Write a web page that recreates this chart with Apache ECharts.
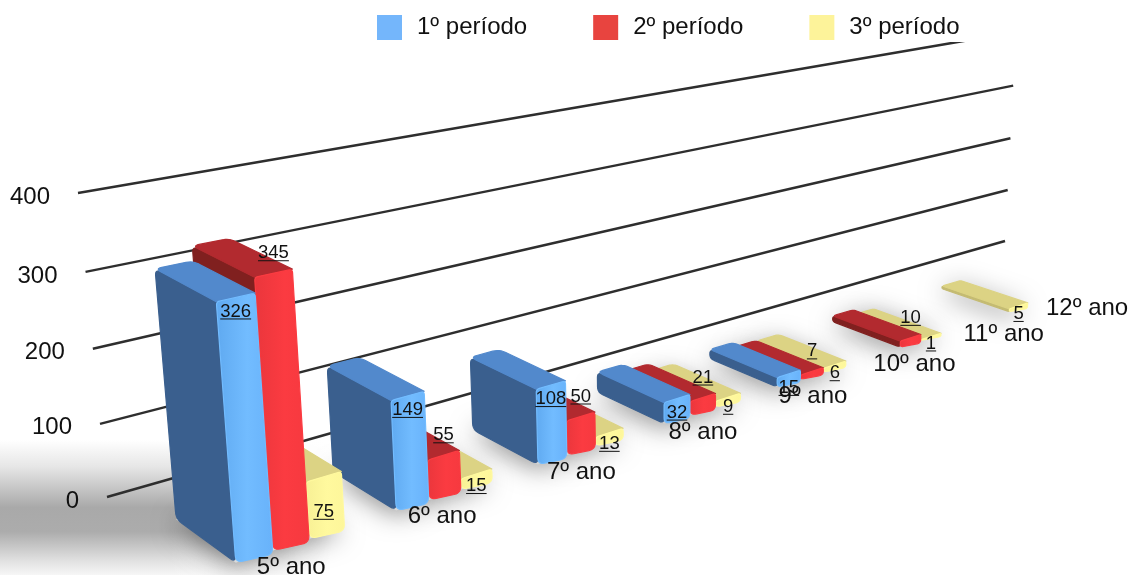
<!DOCTYPE html>
<html>
<head>
<meta charset="utf-8">
<style>html,body{margin:0;padding:0;background:#fff}#chart{width:1129px;height:575px}</style>
<script src="https://cdn.jsdelivr.net/npm/echarts@6/dist/echarts.min.js"></script>
</head>
<body>
<div id="chart"></div>
<script>
const categories = ['5º ano','6º ano','7º ano','8º ano','9º ano','10º ano','11º ano','12º ano'];
const periodNames = ['1º período','2º período','3º período'];
const period1 = [326,149,108,32,15,null,null,null];
const period2 = [345,55,50,21,7,10,null,null];
const period3 = [75,15,13,9,6,1,5,null];
const yTicks = [0,100,200,300,400];

const FONT = '"Liberation Sans", Arial, Helvetica, sans-serif';
const legendColors = ['#74b6fb','#e8443f','#fdf39a'];
const faceColors = [
  {front:['#5fa9f0','#72bcff','#68b2fa'], top:'#5289cc', side:'#3a5f8e'},
  {front:['#ea363c','#fb3b41','#f6393f'], top:'#b22a2f', side:'#80201f'},
  {front:['#f7f095','#fff99e','#fdf69a'], top:'#dcd384', side:'#c4bb72'}
];
// Small horizontal corrections for the category names along the receding axis.
const categoryNudge = [0,-3,0,0,1,4,4,6];

// Perspective camera: t runs along the back wall, s up the wall, z out of the wall.
const CAM = {a:1392.3,b:-32.78,c:107,d:-137.5,e:-313.3,f:497,g:0.4918,h:-0.0484,kx:83.7,ky:30.9,kw:-0.0773};
const BAR_BACK = 0.428, BAR_FRONT = 1;
function project(t, s, z) {
  const w = 1 + CAM.g*t + CAM.h*s + CAM.kw*z;
  return [(CAM.a*t + CAM.b*s + CAM.c + CAM.kx*z)/w, (CAM.d*t + CAM.e*s + CAM.f + CAM.ky*z)/w];
}
// Flat grid pixels from the hidden axes become wall coordinates.
function toWall(cs, pt) {
  return [(pt[0]-cs.x)/cs.width, (cs.y+cs.height-pt[1])/cs.height];
}

// Replaces each polygon corner with a short curve; radii[i] belongs to points[i].
function rounded(points, radii) {
  const out = [], n = points.length;
  points.forEach((p,i)=>{
    const r = radii[i];
    if (!r) { out.push(p); return; }
    const prev = points[(i+n-1)%n], next = points[(i+1)%n];
    const along = (q)=>{
      const dx = q[0]-p[0], dy = q[1]-p[1], len = Math.hypot(dx,dy) || 1;
      const d = Math.min(r, len*0.45);
      return [p[0]+dx/len*d, p[1]+dy/len*d];
    };
    const a = along(prev), b = along(next);
    for (let k=0;k<=6;k++) {
      const u = k/6, v = 1-u;
      out.push([v*v*a[0]+2*u*v*p[0]+u*u*b[0], v*v*a[1]+2*u*v*p[1]+u*u*b[1]]);
    }
  });
  return out;
}

function face(points, color, z2) {
  const edge = typeof color === 'string' ? color : color.stroke;
  const fill = typeof color === 'string' ? color : color.fill;
  return {type:'polygon', z2, shape:{points},
    style:{fill, stroke:edge, lineWidth:1.2, lineJoin:'round'}};
}

function barRenderer(periodIndex) {
  return function (params, api) {
    const cs = params.coordSys;
    const cat = api.value(0), val = api.value(1);
    const band = api.size([1,0])[0];
    const slot = band*2/9, barW = slot*0.985;
    const base = api.coord([cat,0]);
    const left = base[0] + (periodIndex-1)*slot - slot/2 + (slot-barW)/2;
    const tL = toWall(cs,[left,base[1]])[0];
    const tR = toWall(cs,[left+barW,base[1]])[0];
    const s = toWall(cs,api.coord([cat,val]))[1];
    const drop = -0.012;
    const order = (categories.length-cat)*10 + (3-periodIndex)*3 + 5;
    const c = faceColors[periodIndex];
    const scale = Math.min(1, Math.max(0.35, 1.25-cat*0.15));
    const r = 7*scale;

    const ftl = project(tL,s,BAR_FRONT), ftr = project(tR,s,BAR_FRONT);
    const fbr = project(tR,drop,BAR_FRONT), fbl = project(tL,0,BAR_FRONT);
    const frontFill = new echarts.graphic.LinearGradient(0,0,1,0,[
      {offset:0,color:c.front[0]},{offset:0.55,color:c.front[1]},{offset:1,color:c.front[2]}]);

    // Value label: the middle period sits above the bar, the outer ones on its face.
    const midX = (ftl[0]+ftr[0])/2, topY = (ftl[1]+ftr[1])/2, botY = (fbl[1]+fbr[1])/2;
    let labelY = topY + 14;
    if (periodIndex === 1) labelY = topY - 20;
    if (periodIndex === 2) labelY = (topY+botY)/2 + 6;
    const text = String(val);
    const tw = text.length*0.556*18.5;

    const foot = [project(tL,0,BAR_BACK),project(tR,0,BAR_BACK),project(tR,0,BAR_FRONT),project(tL,0,BAR_FRONT)];
    return {type:'group', children:[
      {type:'polygon', z2:1, shape:{points:foot},
        style:{fill:'#dddddd', shadowBlur:26, shadowColor:'rgba(0,0,0,0.45)', shadowOffsetX:-2, shadowOffsetY:4}},
      face(rounded([project(tL,0,BAR_BACK),project(tL,0,BAR_FRONT),project(tL,s,BAR_FRONT),project(tL,s,BAR_BACK)],[r,r,0,r]), c.side, order),
      face(rounded([project(tL,s,BAR_BACK),project(tR,s,BAR_BACK),project(tR,s,BAR_FRONT),project(tL,s,BAR_FRONT)],[r,r,0,0]), c.top, order+1),
      face(rounded([ftl,ftr,fbr,fbl],[r*0.5,r*0.5,r,r]), {fill:frontFill, stroke:c.front[1]}, order+1),
      {type:'text', z2:1000, style:{x:midX, y:labelY, text, font:'18.5px '+FONT, fill:'#111', align:'center', verticalAlign:'middle'}},
      {type:'line', z2:1000, shape:{x1:midX-tw/2, y1:labelY+7.5, x2:midX+tw/2, y2:labelY+7.5}, style:{stroke:'#111', lineWidth:1}}
    ]};
  };
}

function seriesPoints(values) {
  return values.map((v,i)=> v===null ? null : [i,v]).filter(Boolean);
}

const barSeries = [period1,period2,period3].map((values,k)=>({
  type:'custom', name:periodNames[k], coordinateSystem:'cartesian2d', z:2, silent:true, clip:false,
  itemStyle:{color:legendColors[k]},
  data:seriesPoints(values),
  renderItem:barRenderer(k)
}));

// Wall gridlines with their value labels at the near end.
const wallSeries = {
  type:'custom', coordinateSystem:'cartesian2d', z:1, silent:true, clip:false,
  data:yTicks.map(v=>[0,v]),
  renderItem(params, api) {
    const cs = params.coordSys, s = toWall(cs,api.coord([0,api.value(1)]))[1];
    const a = project(0,s,0), b = project(1,s,0);
    return {type:'group', children:[
      {type:'line', shape:{x1:a[0],y1:a[1],x2:b[0],y2:b[1]}, style:{stroke:'#2e2e2e', lineWidth:2.4}},
      {type:'text', style:{x:a[0]-28, y:a[1]+4, text:String(api.value(1)), font:'24px '+FONT, fill:'#111', align:'right', verticalAlign:'middle'}}
    ]};
  }
};

// Category names sit just in front of each group.
const categorySeries = {
  type:'custom', coordinateSystem:'cartesian2d', z:3, silent:true, clip:false,
  data:categories.map((_,i)=>[i,0]),
  renderItem(params, api) {
    const cs = params.coordSys, i = api.value(0);
    const t = toWall(cs,api.coord([i,0]))[0];
    const p = project(t,0,BAR_FRONT);
    return {type:'text', z2:1000, style:{x:p[0]+categoryNudge[i], y:p[1]+22.5-i*0.4, text:categories[i], font:'24px '+FONT, fill:'#111', align:'center', verticalAlign:'middle'}};
  }
};

const chart = echarts.init(document.getElementById('chart'));
chart.setOption({
  animation:false,
  backgroundColor:'#fff',
  grid:{left:100,right:100,top:100,bottom:100},
  xAxis:{type:'category',data:categories,show:false},
  yAxis:{type:'value',min:0,max:400,interval:100,show:false},
  legend:{
    data:periodNames, left:372, top:10, itemWidth:25, itemHeight:25, itemGap:66, icon:'rect',
    selectedMode:false,
    textStyle:{fontSize:24,fontFamily:FONT,color:'#111',padding:[2,0,0,10]}
  },
  graphic:[
    {type:'rect', z:0, silent:true, shape:{x:0,y:440,width:330,height:135},
      style:{fill:new echarts.graphic.LinearGradient(0,0,0,1,[
        {offset:0,color:'#ffffff'},{offset:0.2,color:'#e6e6e6'},{offset:0.5,color:'#a9a9a9'},
        {offset:0.68,color:'#acacac'},{offset:0.9,color:'#e2e2e2'},{offset:1,color:'#f6f6f6'}])}},
    {type:'rect', z:0.5, silent:true, shape:{x:170,y:440,width:160,height:135},
      style:{fill:new echarts.graphic.LinearGradient(0,0,1,0,[
        {offset:0,color:'rgba(255,255,255,0)'},{offset:1,color:'#ffffff'}])}},
    {type:'rect', z:1.5, silent:true, shape:{x:340,y:0,width:789,height:42}, style:{fill:'#ffffff'}}
  ],
  series:[wallSeries,...barSeries,categorySeries]
});
</script>
</body>
</html>
